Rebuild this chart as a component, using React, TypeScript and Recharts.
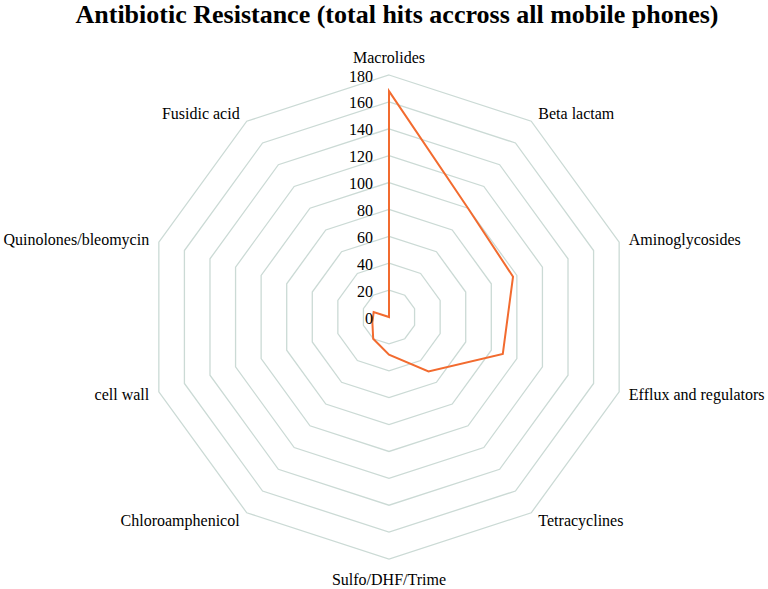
import { RadarChart, Radar, PolarGrid, PolarAngleAxis, PolarRadiusAxis } from 'recharts';

const categories = [
    'Macrolides',
    'Beta lactam',
    'Aminoglycosides',
    'Efflux and regulators',
    'Tetracyclines',
    'Sulfo/DHF/Trime',
    'Chloroamphenicol',
    'cell wall',
    'Quinolones/bleomycin',
    'Fusidic acid',
];
const hits = [168, 100, 97, 89, 50, 28, 20, 13, 12, 0];
const radiusTicks = [0, 20, 40, 60, 80, 100, 120, 140, 160, 180];

const data = categories.map((name, i) => ({ name, hits: hits[i] }));

const CX = 389;
const CY = 317;
const R = 242;
const FONT = '"Liberation Serif", "Times New Roman", serif';

function AngleTick(props: any) {
    const { payload, index } = props;
    const theta = (index * 36 * Math.PI) / 180;
    const s = Math.sin(theta);
    const c = Math.cos(theta);
    const vx = CX + R * s;
    const vy = CY - R * c;
    let x = vx;
    let y = vy;
    let anchor: 'start' | 'middle' | 'end' = 'middle';
    if (Math.abs(s) < 0.01) {
        y = c > 0 ? vy - 18 : vy + 20;
    } else {
        const off = 3 + 7 * Math.abs(s);
        x = s > 0 ? vx + off : vx - off;
        anchor = s > 0 ? 'start' : 'end';
        y = vy - 9 * c;
    }
    return (
        <text x={x} y={y} textAnchor={anchor} dominantBaseline="central" fill="#000" fontSize={16} fontFamily={FONT}>
            {payload.value}
        </text>
    );
}

function RadiusTick(props: any) {
    const { x, y, payload } = props;
    return (
        <text x={x - 16} y={y + 1} textAnchor="end" dominantBaseline="central" fill="#000" fontSize={16} fontFamily={FONT}>
            {payload.value}
        </text>
    );
}

export default function App() {
    return (
        <div style={{ position: 'absolute', left: 0, top: 0, width: 768, height: 589, background: '#fff' }}>
            <div
                style={{
                    position: 'absolute',
                    left: 0,
                    top: 0,
                    width: 768,
                    textAlign: 'center',
                    paddingLeft: 26,
                    boxSizing: 'border-box',
                    fontFamily: FONT,
                    fontWeight: 'bold',
                    fontSize: 26,
                    lineHeight: '30px',
                }}
            >
                Antibiotic Resistance (total hits accross all mobile phones)
            </div>
            <RadarChart
                width={768}
                height={589}
                data={data}
                cx={CX}
                cy={CY}
                outerRadius={R}
                margin={{ top: 0, right: 0, bottom: 0, left: 0 }}
            >
                <PolarGrid gridType="polygon" radialLines={false} stroke="#CBDAD5" strokeWidth={1.3} />
                <PolarAngleAxis dataKey="name" tick={AngleTick} tickLine={false} axisLine={false} />
                <PolarRadiusAxis
                    angle={90}
                    domain={[0, 180]}
                    ticks={radiusTicks as any}
                    tickCount={10}
                    axisLine={false}
                    tickLine={false}
                    tick={RadiusTick}
                />
                <Radar
                    dataKey="hits"
                    stroke="#F26B2F"
                    strokeWidth={2}
                    fill="none"
                    fillOpacity={0}
                    dot={false}
                    isAnimationActive={false}
                />
            </RadarChart>
        </div>
    );
}
